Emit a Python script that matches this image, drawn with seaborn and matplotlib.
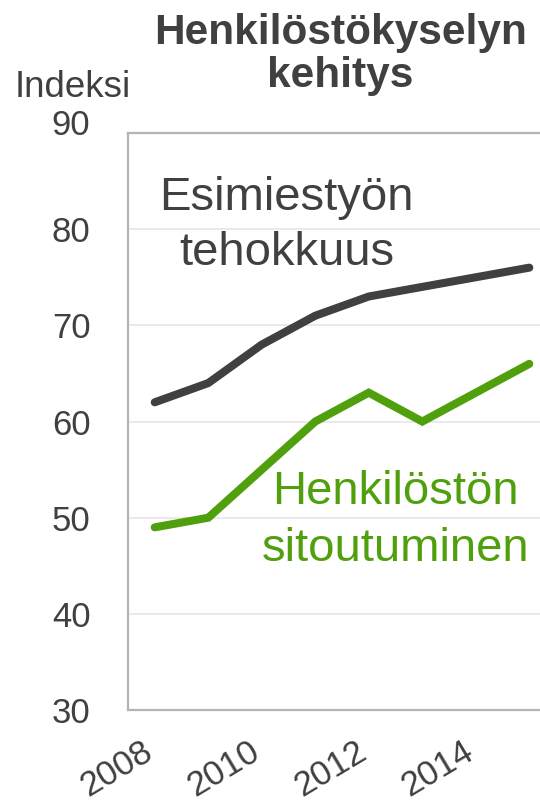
import matplotlib
matplotlib.use("Agg")
import matplotlib.pyplot as plt
import matplotlib.transforms as mtransforms
import seaborn as sns
import pandas as pd

years = [2008, 2009, 2010, 2011, 2012, 2013, 2014, 2015]
esimiestyo = [62, 64, 68, 71, 73, 74, 75, 76]
sitoutuminen = [49, 50, 55, 60, 63, 60, 63, 66]
series_names = ["Esimiestyön tehokkuus", "Henkilöstön sitoutuminen"]
colors = ["#404040", "#4fa00c"]
yticks = [30, 40, 50, 60, 70, 80, 90]
xticks = [2008, 2010, 2012, 2014]

df = pd.DataFrame({
    "Vuosi": years * 2,
    "Indeksi": esimiestyo + sitoutuminen,
    "Sarja": [series_names[0]] * len(years) + [series_names[1]] * len(years),
})

sns.set_style("white")
plt.rcParams["font.family"] = ["Liberation Sans", "DejaVu Sans"]

fig = plt.figure(figsize=(5.4, 8.06), dpi=100)
ax = fig.add_axes([0.237, 0.119, 0.763, 0.716])

sns.lineplot(data=df, x="Vuosi", y="Indeksi", hue="Sarja",
             palette=dict(zip(series_names, colors)), linewidth=5.8,
             legend=False, ax=ax, solid_capstyle="round", solid_joinstyle="miter")

ax.set_xlim(2007.5, 2015.2)
ax.set_ylim(30, 90)
ax.set_yticks(yticks)
ax.set_xticks(xticks)
ax.set_xticklabels([str(x) for x in xticks], rotation=31, ha="right", va="baseline",
                   rotation_mode="anchor", fontsize=25, color="#404040")
ax.tick_params(axis="x", length=0, pad=34)
ax.tick_params(axis="y", length=0, pad=27, labelsize=25, labelcolor="#404040")
# top label nudged up slightly as in the reference
top_lbl = ax.get_yticklabels()[-1]
top_lbl.set_transform(top_lbl.get_transform() +
                      mtransforms.ScaledTranslation(0, 11 / 100, fig.dpi_scale_trans))
ax.yaxis.grid(True, color="#e8e8e8", linewidth=1.3)
ax.set_axisbelow(True)
for s in ["left", "bottom", "top"]:
    ax.spines[s].set_color("#b4b4b4")
    ax.spines[s].set_linewidth(1.6)
ax.spines["right"].set_visible(False)
ax.set_xlabel("")
ax.set_ylabel("")

ax.text(2010.46, 81.95, "Esimiestyön", fontsize=34, color="#404040",
        ha="center", va="baseline")
ax.text(2010.46, 76.3, "tehokkuus", fontsize=34, color="#404040",
        ha="center", va="baseline")
ax.text(2012.5, 51.4, "Henkilöstön", fontsize=34, color=colors[1],
        ha="center", va="baseline")
ax.text(2012.5, 45.5, "sitoutuminen", fontsize=34, color=colors[1],
        ha="center", va="baseline")

fig.text(0.63, 0.9325, "Henkilöstökyselyn\nkehitys", fontsize=30.5, fontweight="bold",
         color="#404040", ha="center", va="center", linespacing=1.12)
fig.text(0.135, 0.891, "Indeksi", fontsize=26.5, color="#404040",
         ha="center", va="center")

fig.savefig("out.png", dpi=100)
